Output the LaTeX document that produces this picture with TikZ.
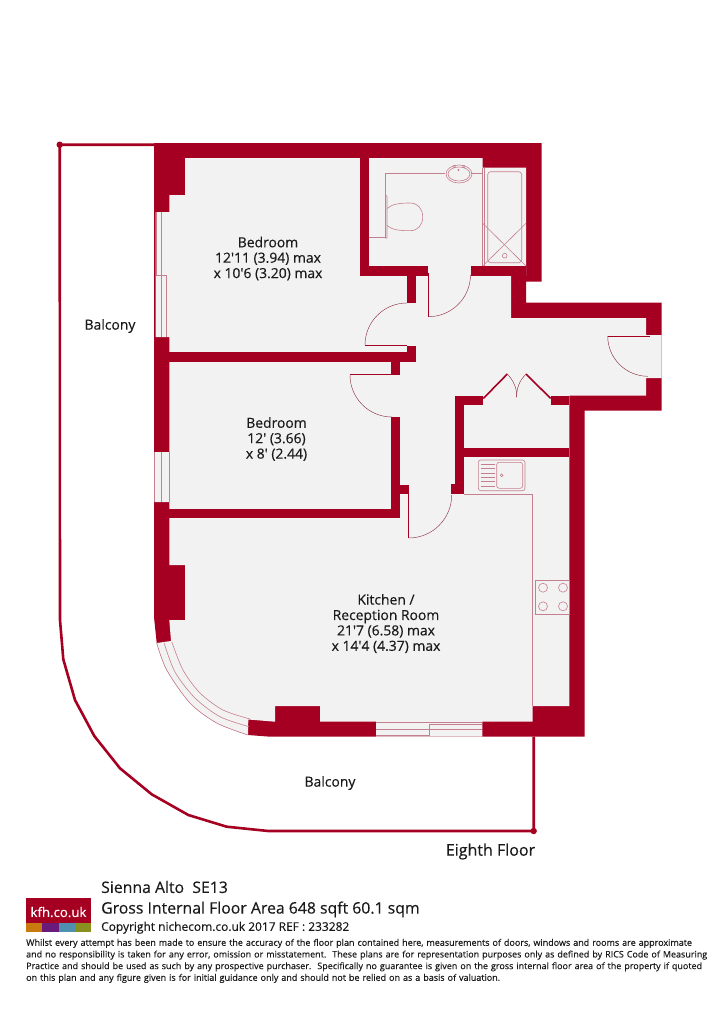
\documentclass[tikz,border=0pt]{standalone}
\usepackage{fontspec}
\setmainfont{Open Sans}[FakeBold=0.35]
\usetikzlibrary{positioning}
\definecolor{wallred}{HTML}{A50021}
\definecolor{floorgrey}{HTML}{F3F2F2}
\definecolor{fitline}{HTML}{C5808F}
\definecolor{inktext}{HTML}{1A1A1A}
\definecolor{logoorange}{HTML}{C87A10}
\definecolor{logopurple}{HTML}{6A1B7A}
\definecolor{logoblue}{HTML}{4F8FB0}
\definecolor{logoolive}{HTML}{8A9020}
\tikzset{
    wall/.style={
           fill=wallred,
           draw=none,
           },
}
\tikzset{
    fitting/.style={
           draw=fitline,
           line width=0.6pt,
           },
}
\tikzset{
    leaf/.style={
           draw=wallred,
           line width=1pt,
           },
}
\tikzset{
    swing/.style={
           draw=wallred!70!black!80,
           line width=0.45pt,
           },
}
\tikzset{
    terrace/.style={
           draw=wallred,
           line width=2.6pt,
           line join=round,
           },
}
\tikzset{
    roomtext/.style={
           align=center,
           inner sep=0pt,
           text=inktext,
           font=\fontsize{13.9}{15.4}\selectfont,
           },
}
\tikzset{
    foottext/.style={
           align=left,
           inner sep=0pt,
           text=inktext,
           },
}
\begin{document}
\begin{tikzpicture}[x=1pt,y=-1pt]
\useasboundingbox (0,0) rectangle (715,1033);
% outer shell, floor on top of it
\fill[wall] (154,143) -- (541.7,143) -- (541.7,281.7) -- (526,281.7) -- (526,302.7) -- (661.7,302.7) -- (661.7,410.7) -- (584.7,410.7) -- (584.7,736.7) -- (270,736.7) -- (248,735) -- plot[smooth] coordinates {(248,735) (216.7,723) (190,703) (166.7,670) (156.7,643)} -- (154,617) -- cycle;
\fill[floorgrey] (185,158) -- (482.7,158) -- (482.7,167.7) -- (526,167.7) -- (526,275.7) -- (511,275.7) -- (511,318) -- (646,318) -- (646,335) -- (661.7,335) -- (661.7,378) -- (646,378) -- (646,395.7) -- (569.3,395.7) -- (569.3,706) -- (532.5,706) -- (532.5,721.7) -- (482.3,721.7) -- (482.3,736.7) -- (376,736.7) -- (376,721.7) -- (320,721.7) -- (320,706) -- (275,706) -- (275,721.7) -- (248.3,719.5) -- (248,735) -- plot[smooth] coordinates {(248,735) (216.7,723) (190,703) (166.7,670) (156.7,643)} -- (171,641) -- (169.3,620) -- (185,620) -- (185,565) -- (169.3,565) -- (169.3,502) -- (154.5,502) -- (154.5,452) -- (169.3,452) -- (169.3,337) -- (155.5,337) -- (155.5,212) -- (169.3,212) -- (169.3,195) -- (185,195) -- cycle;
% inner walls
\fill[wall] (360,158) rectangle (369.3,275.7);
\fill[wall] (360,266) rectangle (428.3,275.7);
\fill[wall] (470.7,266) rectangle (526,275.7);
\fill[wall] (406.7,275.7) rectangle (415.7,303.3);
\fill[wall] (169.3,352) rectangle (415.7,361.7);
\fill[wall] (406.7,345.5) rectangle (415.7,352);
\fill[wall] (390.7,361.7) rectangle (400,375);
\fill[wall] (390.7,416.7) rectangle (400,518.3);
\fill[wall] (169.3,509.3) rectangle (400,518.3);
\fill[wall] (400,485) rectangle (408.7,494);
\fill[wall] (455,395.7) rectangle (464.3,494);
\fill[wall] (451,484.3) rectangle (455,494);
\fill[wall] (455,395.7) rectangle (483.3,405);
\fill[wall] (550.7,395.7) rectangle (569.3,405);
\fill[wall] (455,447.7) rectangle (569.3,457.3);
% doors
\draw[leaf] (428.5,273) -- (428.5,316.7);
\draw[swing] (428.5,316.7) arc[start angle=270,end angle=360,radius=42pt];
\draw[leaf] (365,345.5) -- (407,345.5);
\draw[swing] (365,345) arc[start angle=180,end angle=90,radius=42pt];
\draw[leaf] (350,374.6) -- (392,374.6);
\draw[swing] (350,375) arc[start angle=180,end angle=270,radius=42pt];
\draw[leaf] (408.5,492) -- (408.5,538);
\draw[swing] (408.7,538) arc[start angle=270,end angle=360,radius=43pt];
\draw[leaf] (607.7,336) -- (650,336);
\draw[swing] (607.7,336) arc[start angle=180,end angle=270,radius=40.3pt];
\draw[wallred,line width=1.6pt] (483.3,398.5) -- (507.3,374);
\draw[wallred,line width=1.6pt] (526,374) -- (550.7,398.5);
\draw[swing] (507.3,374) .. controls (514,381) and (517,389) .. (516.7,397);
\draw[swing] (526,374) .. controls (519,381) and (516.5,389) .. (516.7,397);
% windows
\draw[fitting] (156.5,212) -- (156.5,275) -- (166.6,275) -- (166.6,337);
\draw[fitting] (161.7,212) -- (161.7,337);
\draw[fitting] (154.5,452) -- (154.5,502);
\draw[fitting] (161.7,452) -- (161.7,502);
\draw[fitting] (169,452) -- (169,502);
\draw[fitting] plot[smooth] coordinates {(171.7,641.7) (183,670) (200,693) (223,710) (250,719)};
\draw[fitting] plot[smooth] coordinates {(164,642.7) (175,672) (195,698) (220,716.7) (249,726.7)};
\draw[fitting] plot[smooth] coordinates {(156.7,643) (166.7,670) (190,703) (216.7,723) (248,735)};
\draw[fitting] (376,722) -- (482.3,722);
\draw[fitting] (376,729) -- (482.3,729);
\draw[fitting] (429.3,724.3) -- (482.3,724.3);
\draw[fitting] (376,735) -- (429.3,735) -- (429.3,724.3);
% bathroom
\draw[fitting] (369.3,237.5) -- (385,237.5) -- (385,173.3) -- (445,173.3);
\draw[fitting] (470.7,173.3) -- (482.7,173.3);
\draw[fitting] (385,195) -- (387,196) -- (387,238) -- (385,238);
\draw[fitting] (387,208.5) .. controls (392,204) and (400,203) .. (410,203) .. controls (418,203) and (422.7,209) .. (422.7,217) .. controls (422.7,225) and (418,230.7) .. (410,230.7) .. controls (400,230.7) and (392,230) .. (387,225.5);
\draw[fitting] (459,174) ellipse[x radius=13pt,y radius=9pt];
\draw[fitting] (459,174) ellipse[x radius=11pt,y radius=7pt];
\draw[fitting] (454,166.5) circle[radius=1.3pt];
\draw[fitting] (464,166.5) circle[radius=1.3pt];
\draw[fitting] (458.5,170) circle[radius=0.8pt];
\draw[fitting] (482.7,167.7) -- (482.7,266);
\draw[fitting] (484.4,167.7) -- (484.4,266);
\draw[fitting,rounded corners=3pt] (487.7,171.7) rectangle (521.7,262.7);
\draw[fitting] (482.7,223.3) -- (526,266);
\draw[fitting] (526,223.3) -- (482.7,266);
\draw[fitting] (504.7,255.7) circle[radius=2.4pt];
% kitchen
\draw[fitting] (464.3,494) -- (532.7,494) -- (532.7,706);
\draw[fitting,rounded corners=2.5pt] (478.3,460) rectangle (525,490.7);
\draw[fitting,rounded corners=2.5pt] (496.7,462.3) rectangle (522.7,488.3);
\foreach \ry in {464.3,468.7,473,477.4,481.8,486.2}
    \draw[fitting,line width=1pt] (481,\ry) -- (495,\ry);
\draw[fitting] (501.7,475.3) circle[radius=1.4pt];
\draw[fitting] (535.3,580) rectangle (569.3,614);
\foreach \hx in {543,563}
    \foreach \hy in {587.7,606.3}
        \draw[fitting] (\hx,\hy) circle[radius=4.5pt];
% balcony
\coordinate (topdot) at (59.7,144.7);
\coordinate (lowdot) at (533.7,831);
\coordinate (wallfoot) at (533.7,736.7);
\coordinate (wallhead) at (154,144.7);
\draw[terrace] (wallhead) -- (topdot) -- (60,620) -- (63.3,659.3) -- (75,700) -- (94.3,736) -- (120,768.3) -- (151.7,794.3) -- (188.3,815) -- (226.7,826.7) -- (268.3,831) -- (lowdot) -- (wallfoot);
\fill[wallred] (topdot) circle[radius=3.2pt];
\fill[wallred] (lowdot) circle[radius=3.2pt];
% rooms
\node[roomtext](bedone) at (268,258.5){Bedroom\\12\textquotesingle 11 (3.94) max\\x 10\textquotesingle 6 (3.20) max};
\node[roomtext](bedtwo) at (276.5,439){Bedroom\\12\textquotesingle{} (3.66)\\x 8\textquotesingle{} (2.44)};
\node[roomtext](living) at (386,623.5){Kitchen /\\Reception Room\\21\textquotesingle 7 (6.58) max\\x 14\textquotesingle 4 (4.37) max};
\node[roomtext](westbalcony) at (110,326){Balcony};
\node[roomtext](southbalcony) at (330,783){Balcony};
\node[roomtext,font=\fontsize{16}{18}\selectfont](floorname) at (490.5,851.5){Eighth Floor};
% footer
\fill[wallred] (26,898) rectangle (91,923);
\fill[logoorange] (26,923) rectangle (42.3,931.5);
\fill[logopurple] (42.3,923) rectangle (58.5,931.5);
\fill[logoblue] (58.5,923) rectangle (74.8,931.5);
\fill[logoolive] (74.8,923) rectangle (91,931.5);
\node[text=white,inner sep=0pt,font=\fontsize{13.2}{15}\selectfont](logo) at (58.5,912){kfh.co.uk};
\node[foottext,anchor=west,font=\fontsize{15.8}{18}\selectfont](sienna) at (101,887){Sienna Alto\ \ SE13};
\node[foottext,below=8pt of sienna.south west,anchor=north west,font=\fontsize{15.8}{18}\selectfont](gross){Gross Internal Floor Area 648 sqft 60.1 sqm};
\node[foottext,below=4pt of gross.south west,anchor=north west,font=\fontsize{11.95}{14}\selectfont](copyline){Copyright nichecom.co.uk 2017 REF : 233282};
\node[foottext,anchor=north west,font=\fontsize{8.98}{11.67}\selectfont,text width=689pt](disclaimer) at (26,938.7){Whilst every attempt has been made to ensure the accuracy of the floor plan contained here, measurements of doors, windows and rooms are approximate\\
and no responsibility is taken for any error, omission or misstatement.\ \ These plans are for representation purposes only as defined by RICS Code of Measuring\\
Practice and should be used as such by any prospective purchaser.\ \ Specifically no guarantee is given on the gross internal floor area of the property if quoted\\
on this plan and any figure given is for initial guidance only and should not be relied on as a basis of valuation.};
% sheet ends here
\fill[white] (0,983) rectangle (715,1033);
\end{tikzpicture}
\end{document}
